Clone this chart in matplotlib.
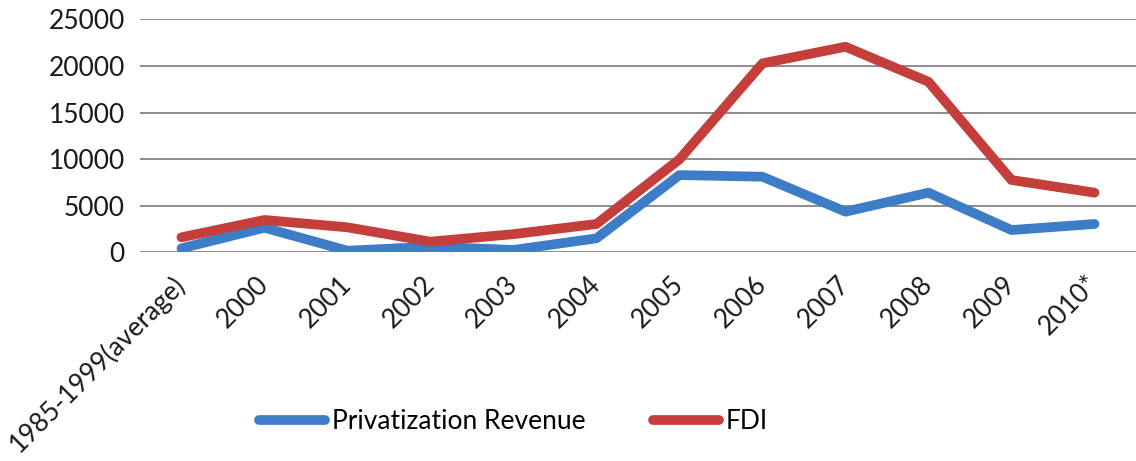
import matplotlib
matplotlib.use("Agg")
import matplotlib.pyplot as plt

plt.rcParams['font.family'] = ['Lato', 'DejaVu Sans']

periods = ['1985-1999(average)', '2000', '2001', '2002', '2003', '2004',
           '2005', '2006', '2007', '2008', '2009', '2010*']
privatization = [430, 2640, 170, 600, 250, 1500, 8290, 8110, 4360, 6400, 2390, 3040]
fdi = [1610, 3470, 2680, 1140, 1950, 3040, 9980, 20280, 22060, 18300, 7760, 6400]
yticks = [0, 5000, 10000, 15000, 20000, 25000]


def main() -> None:
    fig = plt.figure(figsize=(11.36, 4.61), dpi=100)
    ax = fig.add_axes([0.1232, 0.4527, 0.8768, 0.5053])

    x = list(range(len(periods)))
    ax.plot(x, privatization, color='#3D7DC8', lw=7, solid_capstyle='round',
            solid_joinstyle='round', label='Privatization Revenue', zorder=3)
    ax.plot(x, fdi, color='#C43E3B', lw=7, solid_capstyle='round',
            solid_joinstyle='round', label='FDI', zorder=3)

    ax.set_xlim(-0.5, len(periods) - 0.5)
    ax.set_ylim(0, 25000)
    ax.set_yticks(yticks)
    ax.set_yticklabels([str(v) for v in yticks], fontsize=19, color='#1a1a1a')
    ax.set_xticks(x)
    ax.set_xticklabels(periods, rotation=45, ha='right', va='center',
                       rotation_mode='anchor', fontsize=19, color='#1a1a1a')

    ax.tick_params(axis='x', length=0, pad=20)
    ax.tick_params(axis='y', length=0, pad=11)
    ax.grid(axis='y', color='#8c8c8c', lw=1.4)
    ax.set_axisbelow(True)
    for s in ax.spines.values():
        s.set_visible(False)

    fig.legend(loc='center', bbox_to_anchor=(0.452, 0.085), ncol=2,
               frameon=False, fontsize=19, handlelength=2.5,
               handletextpad=0.25, columnspacing=2.55)

    fig.savefig('out.png', dpi=100, facecolor='white')


if __name__ == '__main__':
    main()
